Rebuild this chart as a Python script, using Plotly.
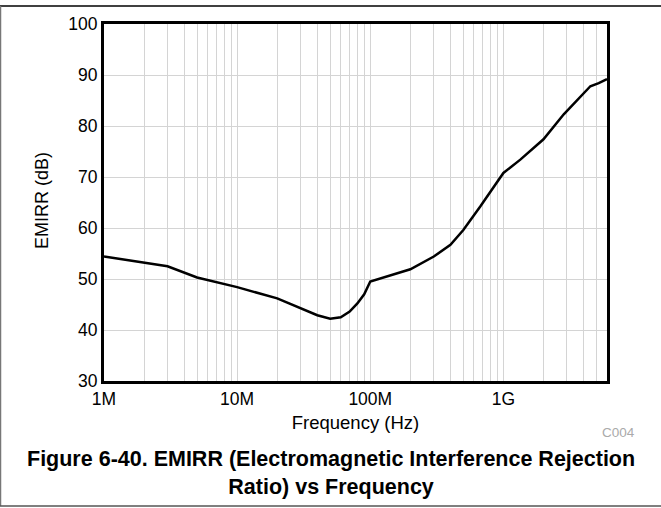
import numpy as np
import plotly.graph_objects as go

# EMIRR curve
freq_hz = [1e6, 3e6, 5e6, 8.4e6, 1e7, 2e7, 3e7, 4e7, 5e7, 6e7, 7e7, 8e7, 9e7, 1e8,
           2e8, 3e8, 4e8, 5e8, 6.7e8, 1e9, 1.34e9, 2e9, 2.84e9, 3.37e9, 4e9, 4.5e9,
           5.2e9, 6e9]
emirr_db = [54.4, 52.5, 50.3, 48.8, 48.4, 46.2, 44.3, 42.9, 42.2, 42.5, 43.6, 45.2,
            47.0, 49.5, 51.9, 54.4, 56.7, 59.6, 64.2, 70.8, 73.4, 77.4, 82.3, 84.3,
            86.4, 87.8, 88.4, 89.2]

x_major = [1e6, 1e7, 1e8, 1e9]
x_labels = ["1M", "10M", "100M", "1G"]
y_ticks = [30, 40, 50, 60, 70, 80, 90, 100]

# gridlines at every 1..9 step of each decade
x_grid = [m * d for d in x_major for m in range(1, 10) if m * d <= 6e9]
x_text = [x_labels[x_major.index(v)] if v in x_major else "" for v in x_grid]

font = "Arial, Liberation Sans, sans-serif"

fig = go.Figure()
fig.add_trace(go.Scatter(x=freq_hz, y=emirr_db, mode="lines",
                         line=dict(color="black", width=2.5), showlegend=False))

fig.update_xaxes(type="log", range=[6, np.log10(6e9)],
                 tickvals=x_grid, ticktext=x_text, ticks="",
                 showgrid=True, gridcolor="#d4d4d4", gridwidth=1,
                 showline=True, linecolor="black", linewidth=3, mirror=True,
                 tickfont=dict(size=17.5, color="black"),
                 title=dict(text="Frequency (Hz)", font=dict(size=18.5, color="black"), standoff=9),
                 zeroline=False)
fig.update_yaxes(range=[30, 100], tickvals=y_ticks, ticks="",
                 showgrid=True, gridcolor="#d4d4d4", gridwidth=1,
                 showline=True, linecolor="black", linewidth=3, mirror=True,
                 tickfont=dict(size=17.5, color="black"),
                 zeroline=False)

l, r, t, b = 104, 54, 24, 127
W, H = 661, 508
pw, ph = W - l - r, H - t - b


def px(x):
    return (x - l) / pw


def py(y):
    return (H - b - y) / ph


shapes = [
    dict(type="line", xref="paper", yref="paper", x0=px(0), x1=px(W), y0=py(6), y1=py(6),
         line=dict(color="black", width=1.5)),
    dict(type="line", xref="paper", yref="paper", x0=px(0.5), x1=px(0.5), y0=py(6), y1=py(506),
         line=dict(color="#777777", width=1.5)),
    dict(type="line", xref="paper", yref="paper", x0=px(0), x1=px(W), y0=py(506), y1=py(506),
         line=dict(color="#555555", width=1.5)),
]

annotations = [
    dict(text="EMIRR (dB)", xref="paper", yref="paper", x=px(42), y=py(201),
         xanchor="center", yanchor="middle", textangle=-90,
         showarrow=False, font=dict(size=18, color="black", family=font)),
    dict(text="C004", xref="paper", yref="paper", x=px(618), y=py(432),
         xanchor="center", yanchor="middle",
         showarrow=False, font=dict(size=13.5, color="#aaaaaa", family=font)),
    dict(text="<b>Figure 6-40. EMIRR (Electromagnetic Interference Rejection<br>Ratio) vs Frequency</b>",
         xref="paper", yref="paper", x=px(331), y=py(473), xanchor="center", yanchor="middle",
         showarrow=False, font=dict(size=21.5, color="black", family=font), align="center"),
]

fig.update_layout(width=W, height=H, margin=dict(l=l, r=r, t=t, b=b),
                  paper_bgcolor="white", plot_bgcolor="white",
                  font=dict(family=font, color="black"),
                  shapes=shapes, annotations=annotations)

fig.write_html("out.html", config={"displayModeBar": False},
               post_script="document.body.style.margin='0';")
